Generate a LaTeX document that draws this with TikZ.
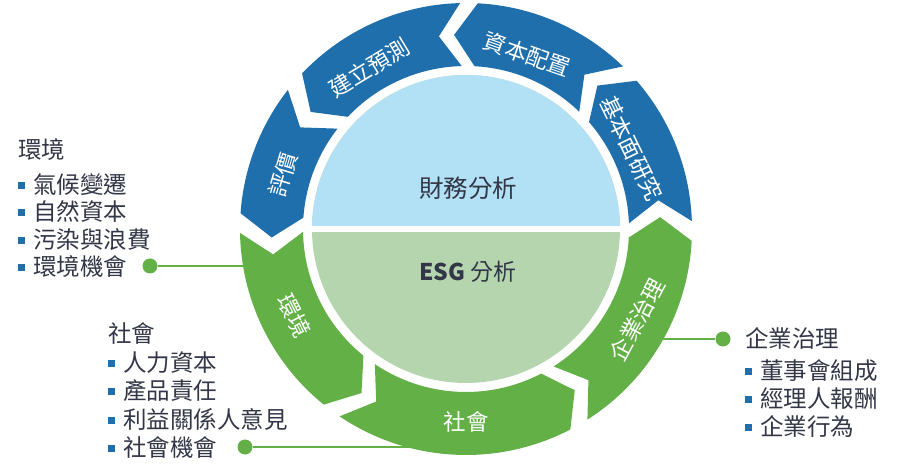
\documentclass[tikz,border=0pt]{standalone}
\usepackage{fontspec}
\setmainfont{Noto Sans CJK TC}
\usepackage{tikz}
\usetikzlibrary{positioning}
\definecolor{finblue}{RGB}{30,111,171}
\definecolor{esggreen}{RGB}{98,176,70}
\definecolor{finlight}{RGB}{178,224,244}
\definecolor{esglight}{RGB}{180,213,174}
\definecolor{textdark}{RGB}{50,54,70}
\newcommand{\bul}{\textcolor{finblue}{\rule[4.5pt]{7pt}{7pt}}\hspace{8pt}}
\tikzset{
  seglabel/.style={
    text=white,
    font=\fontsize{22.5}{22.5}\selectfont,
    inner sep=0pt
  },
  corelabel/.style={
    text=textdark,
    font=\fontsize{24.5}{24.5}\selectfont,
    inner sep=0pt
  },
  listhead/.style={
    text=textdark,
    font=\fontsize{23.5}{23.5}\selectfont,
    inner sep=0pt,
    anchor=west,
    text height=19pt,
    text depth=3pt
  },
  listitem/.style={listhead},
  pin/.style={circle,fill=esggreen,inner sep=0pt,minimum size=15pt},
  pinline/.style={draw=esggreen,line width=2pt}
}

\begin{document}
\begin{tikzpicture}[x=1pt,y=1pt]
\useasboundingbox (0,0) rectangle (900,474);
\coordinate (ctr) at (466,245);
% environment list
\node[listhead] (envhead) at (18,323) {環境};
\node[listitem,below=12pt of envhead.south west,anchor=north west] (env1) {\bul 氣候變遷};
\node[listitem,below=5pt of env1.south west,anchor=north west] (env2) {\bul 自然資本};
\node[listitem,below=5pt of env2.south west,anchor=north west] (env3) {\bul 污染與浪費};
\node[listitem,below=5pt of env3.south west,anchor=north west] (env4) {\bul 環境機會};
\node[pin] (envpin) at (150,208) {};
% social list
\node[listhead] (sochead) at (108,139) {社會};
\node[listitem,below=6pt of sochead.south west,anchor=north west] (soc1) {\bul 人力資本};
\node[listitem,below=6pt of soc1.south west,anchor=north west] (soc2) {\bul 產品責任};
\node[listitem,below=6pt of soc2.south west,anchor=north west] (soc3) {\bul 利益關係人意見};
\node[listitem,below=6pt of soc3.south west,anchor=north west] (soc4) {\bul 社會機會};
\node[pin] (socpin) at (245,27) {};
% governance list
\node[listhead] (govhead) at (745,134) {企業治理};
\node[listitem,below=9pt of govhead.south west,anchor=north west] (gov1) {\bul 董事會組成};
\node[listitem,below=5.5pt of gov1.south west,anchor=north west] (gov2) {\bul 經理人報酬};
\node[listitem,below=5.5pt of gov2.south west,anchor=north west] (gov3) {\bul 企業行為};
\node[pin] (govpin) at (723,135) {};

\begin{scope}[shift={(ctr)}]
\coordinate (envend) at (189.4:215pt);
\coordinate (socend) at (255.7:215pt);
\coordinate (govend) at (-29.1:215pt);
\draw[pinline] (envpin) -- (envpin -| envend);
\draw[pinline] (socpin) -- (socpin -| socend);
\draw[pinline] (govpin) -- (govpin -| govend);
% ring of arrows
\fill[esggreen] (181:226pt) arc[start angle=181,end angle=231,radius=226pt] -- (237.5:194.5pt) -- (231:163pt) arc[start angle=231,end angle=181,radius=163pt] -- (187.5:194.5pt) -- cycle;
\fill[esggreen] (236:226pt) arc[start angle=236,end angle=297.5,radius=226pt] -- (304:194.5pt) -- (297.5:163pt) arc[start angle=297.5,end angle=236,radius=163pt] -- (242.5:194.5pt) -- cycle;
\fill[esggreen] (302.5:226pt) arc[start angle=302.5,end angle=357,radius=226pt] -- (363.5:194.5pt) -- (357:163pt) arc[start angle=357,end angle=302.5,radius=163pt] -- (309:194.5pt) -- cycle;
\fill[finblue] (2:226pt) arc[start angle=2,end angle=41,radius=226pt] -- (47.5:194.5pt) -- (41:163pt) arc[start angle=41,end angle=2,radius=163pt] -- (8.5:194.5pt) -- cycle;
\fill[finblue] (46:226pt) arc[start angle=46,end angle=87,radius=226pt] -- (93.5:194.5pt) -- (87:163pt) arc[start angle=87,end angle=46,radius=163pt] -- (52.5:194.5pt) -- cycle;
\fill[finblue] (91.5:226pt) arc[start angle=91.5,end angle=136.5,radius=226pt] -- (143:194.5pt) -- (136.5:163pt) arc[start angle=136.5,end angle=91.5,radius=163pt] -- (98:194.5pt) -- cycle;
\fill[finblue] (142:226pt) arc[start angle=142,end angle=176,radius=226pt] -- (182.5:194.5pt) -- (176:163pt) arc[start angle=176,end angle=142,radius=163pt] -- (148.5:194.5pt) -- cycle;
\node[seglabel,rotate=31] (forecast) at (121:188pt) {建立預測};
\node[seglabel,rotate=-19.3] (capital) at (70.7:185pt) {資本配置};
\node[seglabel,rotate=-64] (fundamental) at (26:184pt) {基本面研究};
\node[seglabel,rotate=73.5] (valuation) at (163.5:191pt) {評價};
\node[seglabel,rotate=-63.3] (environment) at (206.7:192pt) {環境};
\node[seglabel] (society) at (270:193pt) {社會};
\node[seglabel,rotate=62] (governance) at (-28:194pt) {企業治理};
% core circle
\fill[esglight] (0,0) circle[radius=154pt];
\fill[finlight] (154pt,0) arc[start angle=0,end angle=180,radius=154pt] -- cycle;
\draw[white,line width=6pt] (-156pt,0) -- (156pt,0);
\end{scope}
\node[corelabel] (finance) at (468,286) {財務分析};
\node[corelabel,font=\fontsize{23}{23}\selectfont] (esg) at (468,202) {{\bfseries ESG} 分析};
\end{tikzpicture}
\end{document}
